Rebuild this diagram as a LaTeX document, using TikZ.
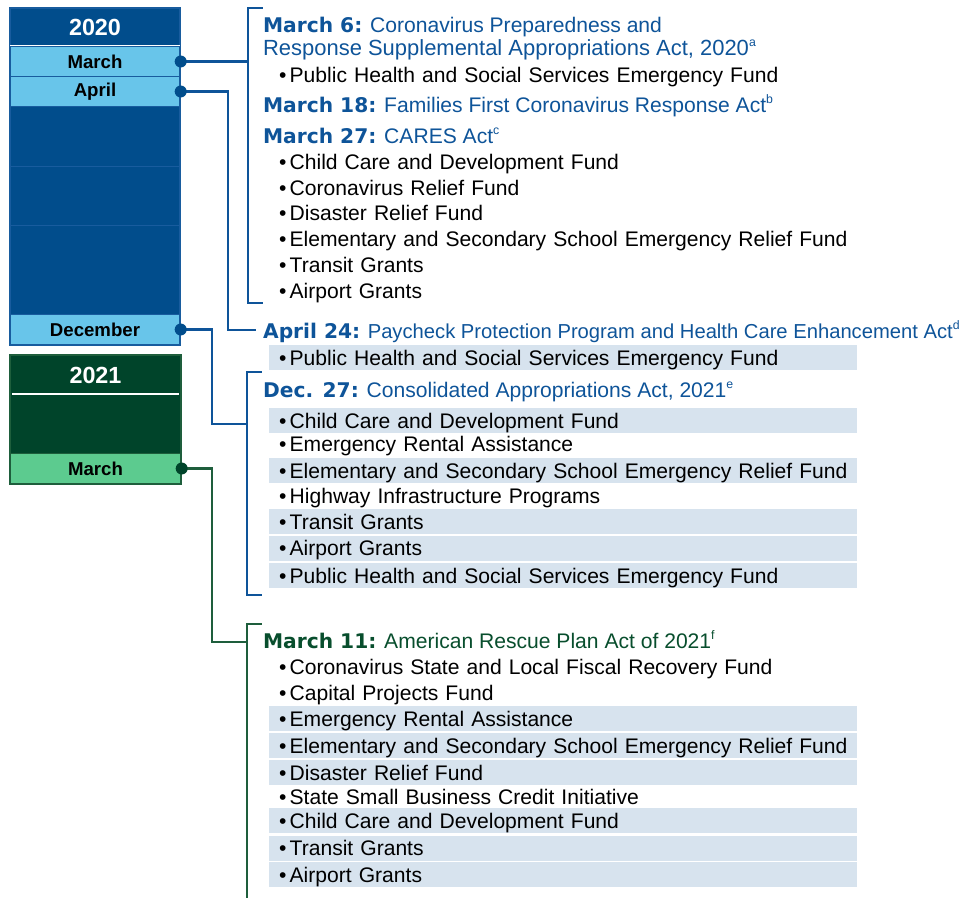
\documentclass[tikz,border=0pt]{standalone}
\usepackage{fontspec}
\setmainfont{Liberation Sans}
\newfontfamily\datefont{DejaVu Sans}
\usepackage{tikz}
\usetikzlibrary{positioning}

\definecolor{yearblue}{RGB}{1,77,140}
\definecolor{monthblue}{RGB}{104,197,234}
\definecolor{edgeblue}{RGB}{24,92,158}
\definecolor{actblue}{RGB}{14,84,153}
\definecolor{yeargreen}{RGB}{0,68,42}
\definecolor{monthgreen}{RGB}{92,203,143}
\definecolor{edgegreen}{RGB}{30,94,60}
\definecolor{actgreen}{RGB}{8,78,45}
\definecolor{shade}{RGB}{215,227,238}

% bold date in front of an act, and the note letter after it
\newcommand{\actdate}[1]{{\datefont\bfseries\fontsize{11.5}{13.1}\selectfont #1}}
\newcommand{\note}[1]{\raisebox{.85ex}{\fontsize{7}{7}\selectfont #1}}

\tikzset{
  yearlabel/.style={text=white,inner sep=0pt,font=\fontsize{13.3}{14}\selectfont\bfseries},
  month/.style={draw=edgeblue,fill=monthblue,line width=.8pt,minimum width=3.4cm,minimum height=.6cm,inner sep=0pt,font=\fontsize{10.6}{12}\selectfont\bfseries},
  dot/.style={circle,fill=#1,inner sep=0pt,minimum size=.24cm},
  act/.style={anchor=base west,inner sep=0pt,align=left,font=\fontsize{12}{13.1}\selectfont},
  fund/.style={anchor=west,inner xsep=.2cm,inner ysep=0pt,text width=11.36cm,text height=.4cm,text depth=.1cm,
    font=\fontsize{12}{13.1}\selectfont,execute at begin node={\textbullet\hspace{.15em}}}
}

\begin{document}
\begin{tikzpicture}[x=0.02cm,y=-0.02cm,line width=1.3pt]
  \useasboundingbox (0,0) rectangle (978,897);

  %Year 2020
  \draw[fill=yearblue,draw=edgeblue,line width=.8pt] (10,8) rectangle (180,345);
  \node[yearlabel] (y2020) at (95,27) {2020};
  \draw[white,line width=.8pt] (10,46) -- (180,46);
  \draw[edgeblue,line width=.4pt] (10,166) -- (180,166) (10,225) -- (180,225);
  \node[month] (mar20) at (95,61.5) {March};
  \node[month] (apr20) at (95,91.5) {April};
  \node[month] (dec20) at (95,329.5) {December};

  %Year 2021
  \draw[fill=yeargreen,draw=edgegreen,line width=.8pt] (10,355) rectangle (181,484);
  \node[yearlabel] (y2021) at (95.5,375) {2021};
  \draw[white,line width=1pt] (12,394) -- (179,394);
  \node[month,draw=edgegreen,fill=monthgreen,minimum width=3.42cm] (mar21) at (95.5,468.5) {March};

  %Acts
  \node[act,text=actblue] (act06) at (262,55.5) {\actdate{March 6:} Coronavirus Preparedness and\\{\fontsize{12.5}{13.1}\selectfont Response Supplemental Appropriations Act, 2020}\note{a}};
  \node[fund] (ph06) at (268,75) {\mbox{Public Health and Social Services Emergency Fund}};
  \node[act,text=actblue] (act18) at (262,112.5) {\actdate{March 18:} Families First Coronavirus Response Act\note{b}};
  \node[act,text=actblue] (act27) at (262,143.5) {\actdate{March 27:} CARES Act\note{c}};
  \foreach \y/\t [count=\i] in {162/Child Care and Development Fund,188/Coronavirus Relief Fund,
      213/Disaster Relief Fund,239/Elementary and Secondary School Emergency Relief Fund,
      265/Transit Grants,291/Airport Grants}
    \node[fund] (cares\i) at (268,\y) {\mbox{\t}};

  \node[act,text=actblue,font=\fontsize{11.5}{13.1}\selectfont] (apr24) at (262,338.5) {\actdate{April 24:} Paycheck Protection Program and Health Care Enhancement Act\note{d}};
  \node[fund,fill=shade] (ph24) at (268,357.5) {\mbox{Public Health and Social Services Emergency Fund}};

  \node[act,text=actblue] (dec27) at (262,397.5) {\actdate{Dec. 27:} Consolidated Appropriations Act, 2021\note{e}};
  \foreach \y/\c/\t [count=\i] in {420.5/shade/Child Care and Development Fund,444/none/Emergency Rental Assistance,
      470.5/shade/Elementary and Secondary School Emergency Relief Fund,496/none/Highway Infrastructure Programs,
      521.5/shade/Transit Grants,548/shade/Airport Grants,575.5/shade/Public Health and Social Services Emergency Fund}
    \node[fund,fill=\c] (caa\i) at (268,\y) {\mbox{\t}};

  \node[act,text=actgreen] (mar11) at (262,648.5) {\actdate{March 11:} American Rescue Plan Act of 2021\note{f}};
  \foreach \y/\c/\t [count=\i] in {667/none/Coronavirus State and Local Fiscal Recovery Fund,692.5/none/Capital Projects Fund,
      718.5/shade/Emergency Rental Assistance,745.5/shade/Elementary and Secondary School Emergency Relief Fund,
      772.5/shade/Disaster Relief Fund,797/none/State Small Business Credit Initiative,
      820.5/shade/Child Care and Development Fund,848/shade/Transit Grants,874.5/shade/Airport Grants}
    \node[fund,fill=\c] (arp\i) at (268,\y) {\mbox{\t}};

  %Brackets
  \coordinate (b1top) at (248,8);   \coordinate (b1bot) at (248,303);
  \coordinate (b3top) at (247,372); \coordinate (b3bot) at (247,595);
  \coordinate (b4top) at (247,624); \coordinate (b4bot) at (247,900);
  \draw[actblue] ([xshift=.3cm]b1top) -- (b1top) -- (b1bot) -- ([xshift=.3cm]b1bot);
  \draw[actblue] ([xshift=.3cm]b3top) -- (b3top) -- (b3bot) -- ([xshift=.3cm]b3bot);
  \draw[edgegreen] ([xshift=.3cm]b4top) -- (b4top) -- (b4bot);

  %Links
  \coordinate (aprjog) at (228,330);
  \coordinate (decjog) at (212,424);
  \coordinate (marjog) at (212,642);
  \draw[actblue] (mar20.east) -- (mar20.east -| b1top);
  \draw[actblue] (apr20.east) -| (aprjog) -- ([xshift=-.12cm]aprjog -| apr24.west);
  \draw[actblue] (dec20.east) -| (decjog) -- (decjog -| b3top);
  \draw[edgegreen] (mar21.east) -| (marjog) -- (marjog -| b4top);
  \node[dot=yearblue] (d1) at (mar20.east) {};
  \node[dot=yearblue] (d2) at (apr20.east) {};
  \node[dot=yearblue] (d3) at (dec20.east) {};
  \node[dot=yeargreen] (d4) at (mar21.east) {};
\end{tikzpicture}
\end{document}
